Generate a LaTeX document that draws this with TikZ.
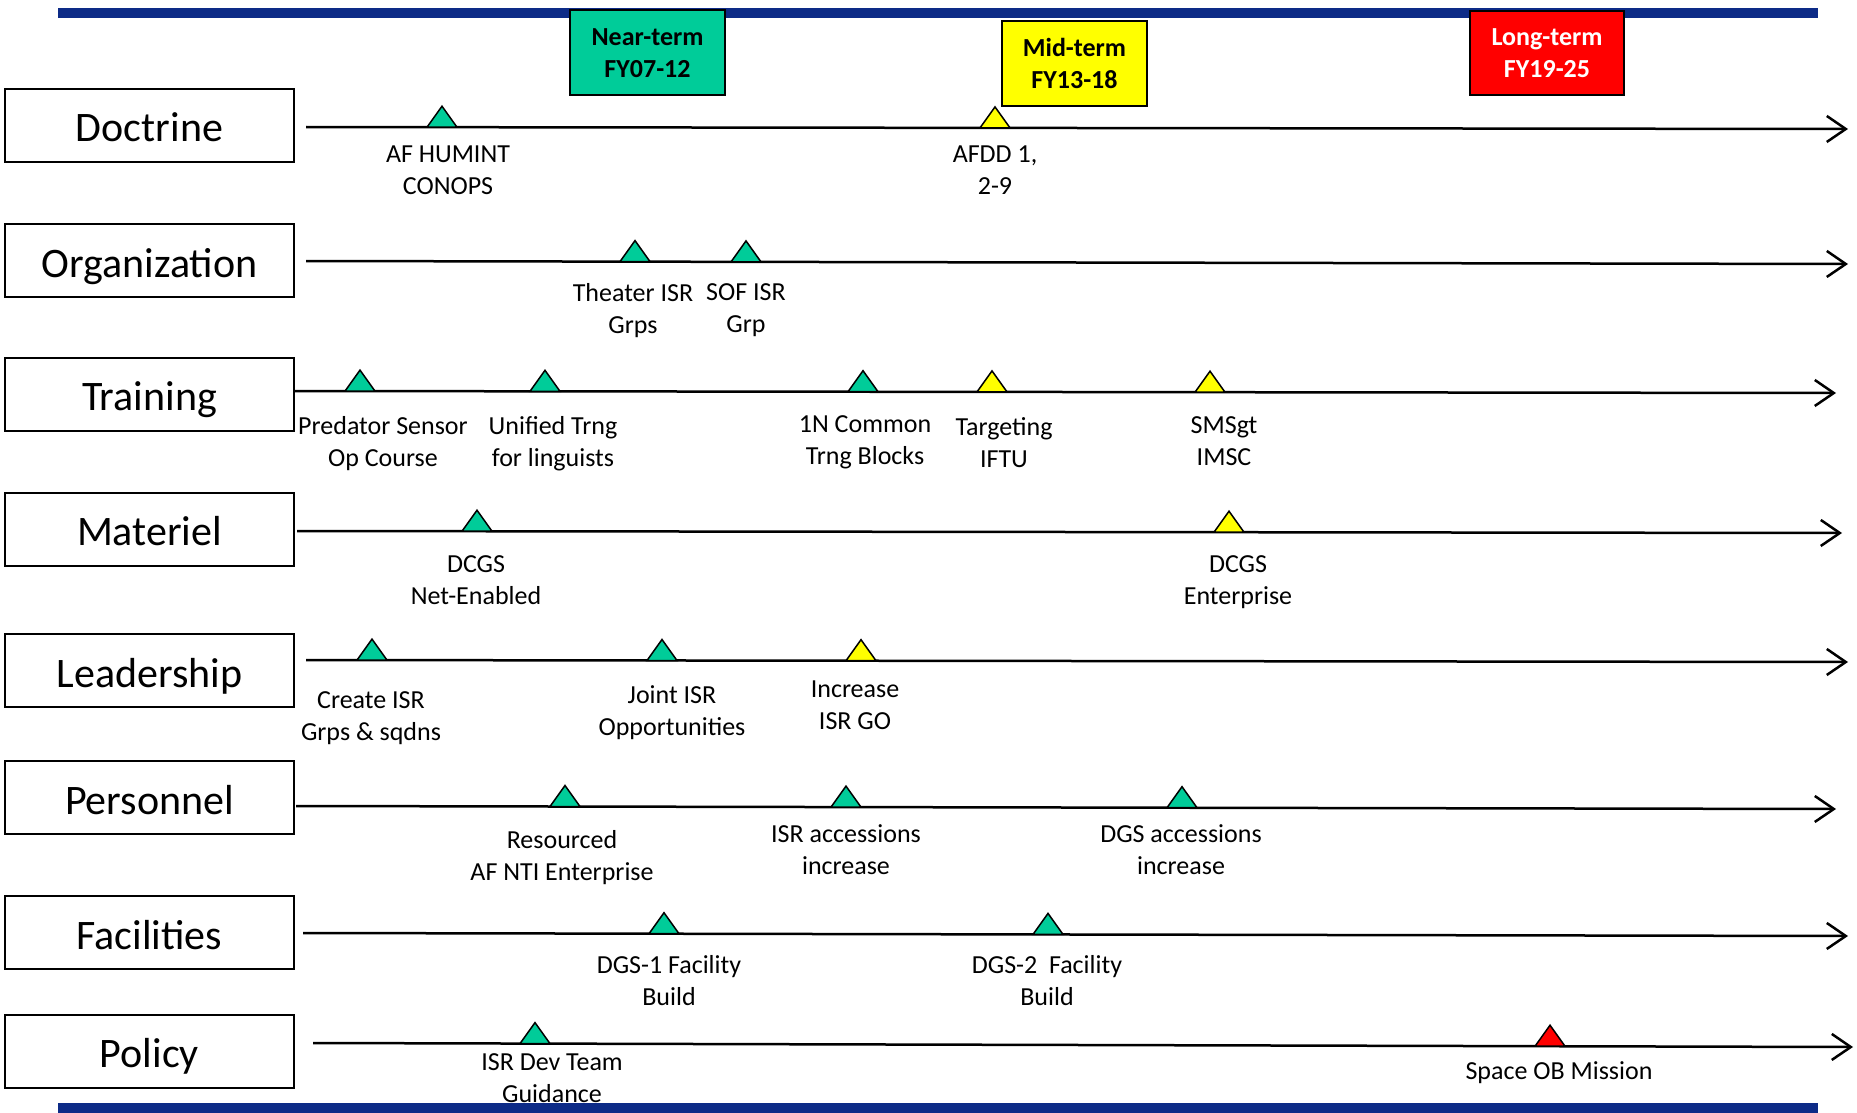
\documentclass[tikz,border=0pt]{standalone}
\usepackage{fontspec}
\setmainfont{Carlito}
\usetikzlibrary{arrows.meta}
\definecolor{barblue}{RGB}{13,43,135}
\definecolor{msgreen}{RGB}{0,204,153}
\definecolor{msyellow}{RGB}{255,255,0}
\definecolor{msred}{RGB}{255,0,0}
\begin{document}
\begin{tikzpicture}[x=1pt,y=-1pt,
  cat/.style={draw, line width=2pt, minimum width=289pt, minimum height=73pt,
    font=\fontsize{42}{50}\selectfont, inner sep=0pt, text height=33pt, text depth=0pt},
  hdr/.style={draw, line width=2pt, font=\bfseries\fontsize{26}{32}\selectfont,
    align=center, inner sep=0pt, minimum height=85pt},
  lbl/.style={font=\fontsize{26}{32}\selectfont, align=center, inner sep=0pt},
  tl/.style={line width=2.5pt, -{Straight Barb[length=19pt,width=26pt,line width=2.5pt]}},
  ms/.pic={\draw[line width=1.5pt, fill=#1, line join=miter] (-15,0) -- (0,-21) -- (15,0) -- cycle;}
]
\useasboundingbox (0,0) rectangle (1857,1113);
% blue bars
\fill[barblue] (58,8) rectangle (1818,18);
\fill[barblue] (58,1103) rectangle (1818,1113);

% header boxes
\node[hdr, fill=msgreen, minimum width=155pt] (near) at (647.5,53) {Near-term\\FY07-12};
\node[hdr, fill=msyellow, minimum width=145pt] (mid) at (1074.5,63.5) {Mid-term\\FY13-18};
\node[hdr, fill=msred, text=white, minimum width=154pt, minimum height=84pt] (long) at (1547,53) {Long-term\\FY19-25};

% category boxes
\node[cat] (doc) at (149.5,125.5) {Doctrine};
\node[cat] (org) at (149.5,260.5) {Organization};
\node[cat] (trn) at (149.5,394) {Training};
\node[cat] (mat) at (149.5,529) {Materiel};
\node[cat] (lea) at (149.5,670.5) {Leadership};
\node[cat] (per) at (149.5,797.5) {Personnel};
\node[cat] (fac) at (149.5,932.5) {Facilities};
\node[cat] (pol) at (149.5,1051) {Policy};

% timeline end points
\coordinate (d0) at (306,127);  \coordinate (d1) at (1848,129);
\coordinate (o0) at (306,261);  \coordinate (o1) at (1848,264);
\coordinate (t0) at (294,391);  \coordinate (t1) at (1836,393);
\coordinate (m0) at (297,531);  \coordinate (m1) at (1842,533);
\coordinate (l0) at (306,660);  \coordinate (l1) at (1848,662);
\coordinate (p0) at (296,806);  \coordinate (p1) at (1836,809);
\coordinate (f0) at (303,933);  \coordinate (f1) at (1848,936);
\coordinate (y0) at (313,1043); \coordinate (y1) at (1853,1047);

\foreach \a in {d,o,t,m,l,p,f,y} \draw[tl] (\a0) -- (\a1);

% milestones
\pic at (442,127.2) {ms=msgreen};
\pic at (995,127.9) {ms=msyellow};
\pic at (635,261.6) {ms=msgreen};
\pic at (746,261.9) {ms=msgreen};
\pic at (360,391.1) {ms=msgreen};
\pic at (545,391.3) {ms=msgreen};
\pic at (863,391.7) {ms=msgreen};
\pic at (992,391.9) {ms=msyellow};
\pic at (1210,392.2) {ms=msyellow};
\pic at (477,531.2) {ms=msgreen};
\pic at (1229,532.2) {ms=msyellow};
\pic at (372,660.1) {ms=msgreen};
\pic at (662,660.5) {ms=msgreen};
\pic at (861,660.7) {ms=msyellow};
\pic at (565,806.5) {ms=msgreen};
\pic at (846,807.1) {ms=msgreen};
\pic at (1182,807.7) {ms=msgreen};
\pic at (664,933.7) {ms=msgreen};
\pic at (1048,934.4) {ms=msgreen};
\pic at (535,1043.6) {ms=msgreen};
\pic at (1550,1046.2) {ms=msred};

% labels
\node[lbl] (l1a) at (448,170) {AF HUMINT\\CONOPS};
\node[lbl] (l1b) at (995,170) {AFDD 1,\\2-9};
\node[lbl] (l2a) at (633,310.5) {Theater ISR\\Grps};
\node[lbl] (l2b) at (746,310.5) {SOF ISR\\Grp};
\node[lbl] (l3a) at (383,443.5) {Predator Sensor\\Op Course};
\node[lbl] (l3b) at (553,443.5) {Unified Trng\\for linguists};
\node[lbl] (l3c) at (865,442.5) {1N Common\\Trng Blocks};
\node[lbl] (l3d) at (1004,443) {Targeting\\IFTU};
\node[lbl] (l3e) at (1224,441) {SMSgt\\IMSC};
\node[lbl] (l4a) at (476,580) {DCGS\\Net-Enabled};
\node[lbl] (l4b) at (1238,582.5) {DCGS\\Enterprise};
\node[lbl] (l5a) at (371,718.5) {Create ISR\\Grps \& sqdns};
\node[lbl] (l5b) at (672,712.5) {Joint ISR\\Opportunities};
\node[lbl] (l5c) at (855,705) {Increase\\ISR GO};
\node[lbl] (l6a) at (562,857.5) {Resourced\\AF NTI Enterprise};
\node[lbl] (l6b) at (846,850) {ISR accessions\\increase};
\node[lbl] (l6c) at (1181,850) {DGS accessions\\increase};
\node[lbl] (l7a) at (669,981) {DGS-1 Facility\\Build};
\node[lbl] (l7b) at (1047,981) {DGS-2\ \ Facility\\Build};
\node[lbl] (l8a) at (552,1078) {ISR Dev Team\\Guidance};
\node[lbl] (l8b) at (1559,1072.5) {Space OB Mission};
\end{tikzpicture}
\end{document}
